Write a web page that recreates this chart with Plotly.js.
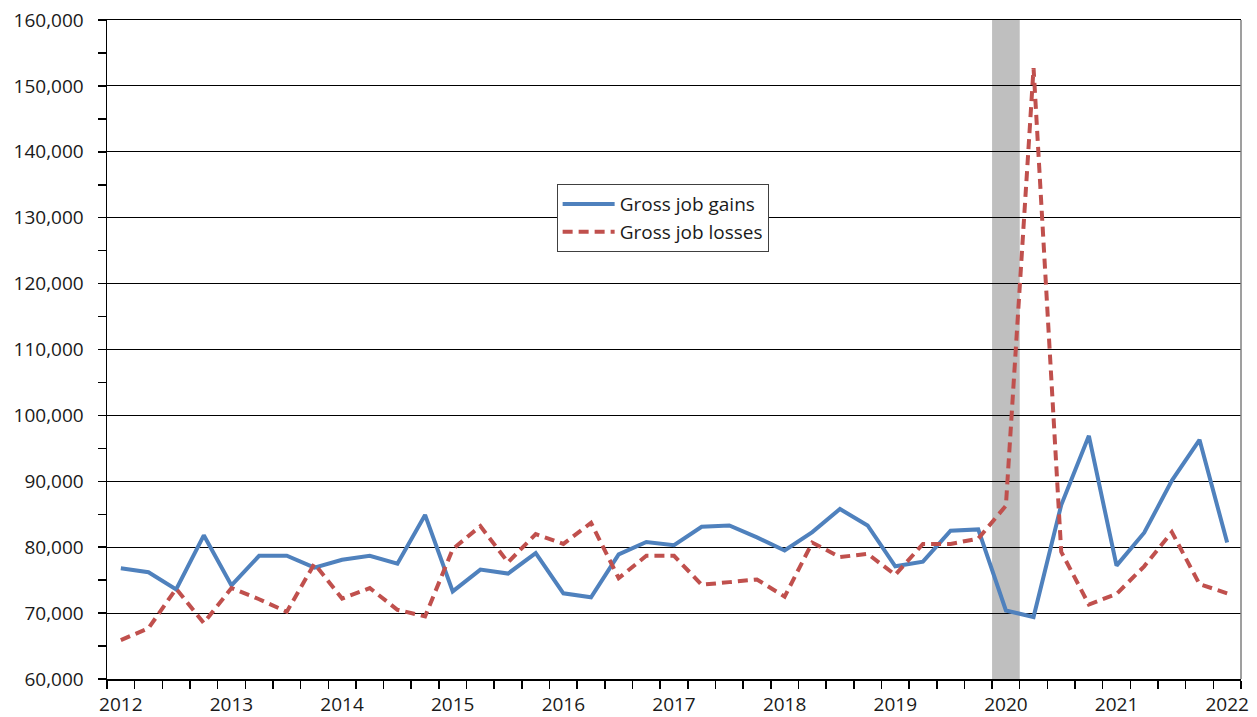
<!DOCTYPE html>
<html>
<head>
<meta charset="utf-8">
<script src="https://cdn.plot.ly/plotly-3.0.1.min.js"></script>
<style>
html,body{margin:0;padding:0;background:#fff;}
#chart{width:1257px;height:717px;}
</style>
</head>
<body>
<div id="chart"></div>
<script>
const quarters = [
  '2012Q1','2012Q2','2012Q3','2012Q4',
  '2013Q1','2013Q2','2013Q3','2013Q4',
  '2014Q1','2014Q2','2014Q3','2014Q4',
  '2015Q1','2015Q2','2015Q3','2015Q4',
  '2016Q1','2016Q2','2016Q3','2016Q4',
  '2017Q1','2017Q2','2017Q3','2017Q4',
  '2018Q1','2018Q2','2018Q3','2018Q4',
  '2019Q1','2019Q2','2019Q3','2019Q4',
  '2020Q1','2020Q2','2020Q3','2020Q4',
  '2021Q1','2021Q2','2021Q3','2021Q4',
  '2022Q1'
];
const grossJobGains = [
  76800, 76200, 73600, 81800,
  74200, 78700, 78700, 76900,
  78100, 78700, 77500, 84900,
  73300, 76600, 76000, 79100,
  73000, 72400, 78900, 80800,
  80300, 83100, 83300, 81500,
  79500, 82300, 85800, 83300,
  77100, 77800, 82500, 82700,
  70400, 69400, 86400, 96900,
  77200, 82200, 90100, 96300,
  80700
];
const grossJobLosses = [
  65900, 67700, 73700, 68500,
  73800, 72100, 70200, 77500,
  72200, 73800, 70500, 69500,
  79700, 83200, 77700, 82000,
  80500, 83700, 75300, 78700,
  78700, 74300, 74700, 75100,
  72500, 80700, 78500, 79000,
  75800, 80500, 80500, 81300,
  86300, 152700, 79300, 71300,
  72900, 77100, 82300, 74400,
  73000
];
const yearLabels = ['2012','2013','2014','2015','2016','2017','2018','2019','2020','2021','2022'];
const recessionQuarters = ['2020Q1'];

const xIdx = quarters.map((q, i) => i);
const yearTickVals = yearLabels.map(y => quarters.indexOf(y + 'Q1'));
const recIdx = recessionQuarters.map(q => quarters.indexOf(q));

const FONT = 'Open Sans, Noto Sans, Liberation Sans, sans-serif';

const traces = [
  {
    x: xIdx, y: grossJobGains, type: 'scatter', mode: 'lines',
    name: 'Gross job gains',
    line: {color: '#4F81BD', width: 4}
  },
  {
    x: xIdx, y: grossJobLosses, type: 'scatter', mode: 'lines',
    name: 'Gross job losses',
    line: {color: '#C0504D', width: 4, dash: '10px,6px'}
  }
];

const shapes = recIdx.map(i => ({
  type: 'rect', xref: 'x', yref: 'paper',
  x0: i - 0.5, x1: i + 0.5, y0: 0, y1: 1,
  fillcolor: '#BFBFBF', line: {width: 0}, layer: 'between'
}));
shapes.push({
  type: 'line', xref: 'paper', yref: 'paper', x0: 1, x1: 1, y0: 0, y1: 1,
  line: {color: '#7F7F7F', width: 1.5}, layer: 'above'
});

const layout = {
  width: 1257, height: 717,
  margin: {l: 107, r: 16, t: 20, b: 38},
  paper_bgcolor: '#fff', plot_bgcolor: '#fff',
  font: {family: FONT, size: 19, color: '#1a1a1a'},
  showlegend: true,
  legend: {
    x: 0.3965, y: 0.751, xanchor: 'left', yanchor: 'top',
    bgcolor: '#fff', bordercolor: '#404040', borderwidth: 1,
    font: {family: FONT, size: 19, color: '#1a1a1a'},
    itemwidth: 52, tracegroupgap: 0
  },
  xaxis: {
    type: 'linear', range: [-0.5, quarters.length - 0.5],
    tickmode: 'array', tickvals: yearTickVals, ticktext: yearLabels,
    ticks: 'outside', ticklen: 8, tickcolor: 'rgba(0,0,0,0)',
    showgrid: false, zeroline: false,
    showline: true, linecolor: '#000', linewidth: 1.5, mirror: true,
    minor: {tick0: -0.5, dtick: 1, ticks: 'outside', ticklen: 8, tickcolor: '#000', tickwidth: 1.5, showgrid: false},
    tickfont: {family: FONT, size: 19, color: '#1a1a1a'}
  },
  yaxis: {
    range: [60000, 160000], dtick: 10000, tick0: 60000,
    tickformat: ',d',
    ticks: 'outside', ticklen: 8, tickcolor: '#000', tickwidth: 1.5,
    ticklabelstandoff: 10,
    showgrid: true, gridcolor: '#000', gridwidth: 1,
    zeroline: false,
    showline: true, linecolor: '#000', linewidth: 1.5,
    minor: {dtick: 5000, tick0: 60000, ticks: 'outside', ticklen: 8, tickcolor: '#000', tickwidth: 1.5, showgrid: false},
    tickfont: {family: FONT, size: 19, color: '#1a1a1a'}
  },
  shapes: shapes
};

Plotly.newPlot('chart', traces, layout, {displayModeBar: false, staticPlot: true});
</script>
</body>
</html>
